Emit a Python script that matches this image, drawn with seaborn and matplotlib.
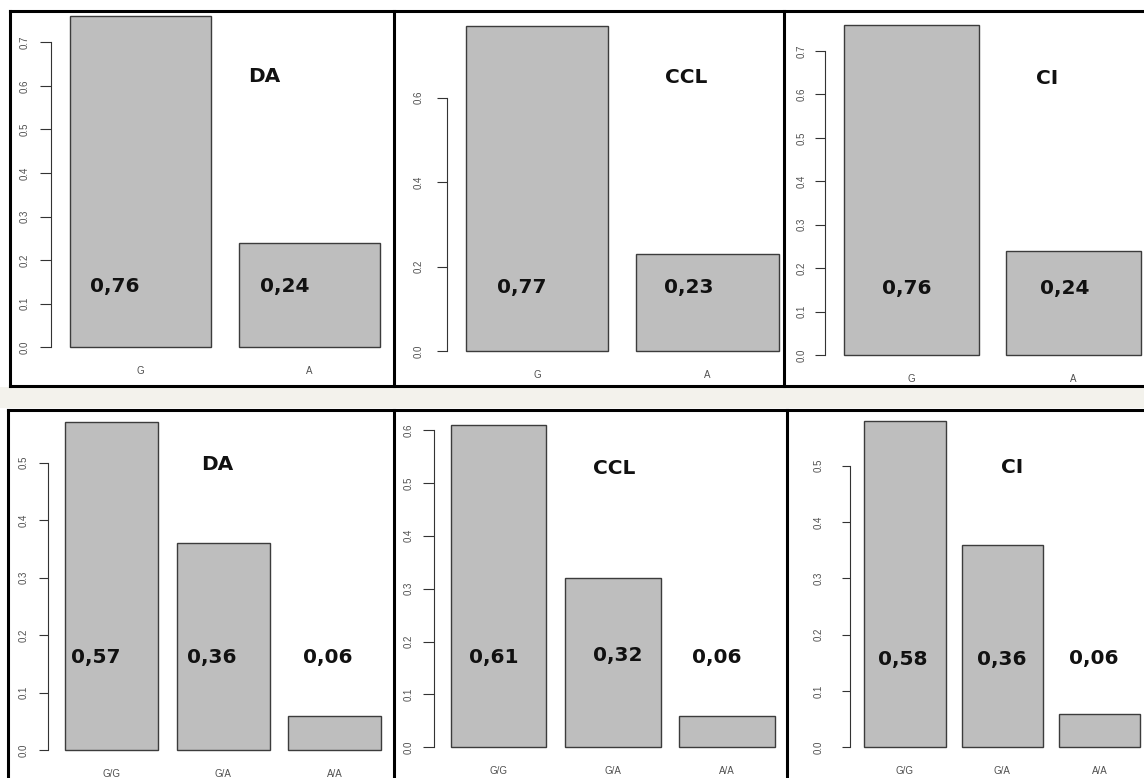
import matplotlib
matplotlib.use("Agg")
import matplotlib.pyplot as plt
import seaborn as sns
import pandas as pd
from matplotlib.lines import Line2D
from matplotlib.patches import Rectangle

# ---------------- data ----------------
alleles = ["G", "A"]
genotypes = ["G/G", "G/A", "A/A"]
traits = ["DA", "CCL", "CI"]

allele_freq_da = [0.76, 0.24]
allele_freq_ccl = [0.77, 0.23]
allele_freq_ci = [0.76, 0.24]

genotype_freq_da = [0.57, 0.36, 0.06]
genotype_freq_ccl = [0.61, 0.32, 0.06]
genotype_freq_ci = [0.58, 0.36, 0.06]

yticks_allele_da = [0.0, 0.1, 0.2, 0.3, 0.4, 0.5, 0.6, 0.7]
yticks_allele_ccl = [0.0, 0.2, 0.4, 0.6]
yticks_allele_ci = [0.0, 0.1, 0.2, 0.3, 0.4, 0.5, 0.6, 0.7]
yticks_geno_da = [0.0, 0.1, 0.2, 0.3, 0.4, 0.5]
yticks_geno_ccl = [0.0, 0.1, 0.2, 0.3, 0.4, 0.5, 0.6]
yticks_geno_ci = [0.0, 0.1, 0.2, 0.3, 0.4, 0.5]

# ---------------- style ----------------
sns.set_style("ticks")
plt.rcParams["font.family"] = ["Liberation Sans", "DejaVu Sans"]

W, H = 1144, 778
fig = plt.figure(figsize=(W / 100, H / 100), dpi=100)
fig.patch.set_facecolor("white")


def fx(x):
    return x / W


def fy(y):
    return 1 - y / H


BAR_FILL = "#bebebe"
BAR_EDGE = "#3c3c3c"
TICK_COLOR = "#505050"
AXIS_COLOR = "#333333"
LABEL_FONT = ["DejaVu Sans"]
LABEL_SIZE = 14.5
CAP_HALF = LABEL_SIZE * 100 / 72 * 0.729 / 2

# panel geometry in pixels: y-axis x, first bar centre, bar pitch,
# pixel of y=0, pixels per unit, top and right edges, tick length, label gap
panels = [
    dict(cats=alleles, vals=allele_freq_da, ticks=yticks_allele_da, title=traits[0],
         axis_x=51, c0=140.4, pitch=169.2, y0=347.3, ppu=435.7, top=14, right=392,
         tick_len=11, gap=16, title_xy=(248, 75),
         label_xy=[(90, 285), (260, 285)]),
    dict(cats=alleles, vals=allele_freq_ccl, ticks=yticks_allele_ccl, title=traits[1],
         axis_x=447.3, c0=536.9, pitch=170.6, y0=351.0, ppu=422.2, top=14, right=782,
         tick_len=10, gap=19, title_xy=(665, 76),
         label_xy=[(497, 286), (664, 286)]),
    dict(cats=alleles, vals=allele_freq_ci, ticks=yticks_allele_ci, title=traits[2],
         axis_x=825, c0=911.5, pitch=161.9, y0=355.0, ppu=434.3, top=14, right=1143,
         tick_len=10, gap=13.5, title_xy=(1036, 77),
         label_xy=[(882, 287), (1040, 287)]),
    dict(cats=genotypes, vals=genotype_freq_da, ticks=yticks_geno_da, title=traits[0],
         axis_x=48.3, c0=111.7, pitch=111.4, y0=750.0, ppu=574.7, top=412, right=391,
         tick_len=9, gap=16, title_xy=(201, 463),
         label_xy=[(71, 656), (187, 656), (303, 656)]),
    dict(cats=genotypes, vals=genotype_freq_ccl, ticks=yticks_geno_ccl, title=traits[1],
         axis_x=434, c0=498.7, pitch=114.2, y0=747.3, ppu=528.9, top=412, right=785,
         tick_len=11, gap=14.7, title_xy=(593, 467),
         label_xy=[(469, 656), (593, 654), (692, 656)]),
    dict(cats=genotypes, vals=genotype_freq_ci, ticks=yticks_geno_ci, title=traits[2],
         axis_x=850, c0=905.0, pitch=97.25, y0=747.3, ppu=563.3, top=412, right=1143,
         tick_len=8.5, gap=23, title_xy=(1001, 466),
         label_xy=[(878, 658), (977, 658), (1069, 657)]),
]

# light band between the two rows
fig.patches.append(Rectangle((0, fy(408)), 1, (408 - 387) / H, transform=fig.transFigure,
                             facecolor="#f3f2ec", edgecolor="none", zorder=0))

for p in panels:
    left, right, top = p["axis_x"], p["right"], p["top"]
    bottom = p["y0"] + 3
    ax = fig.add_axes([fx(left), fy(bottom), (right - left) / W, (bottom - top) / H])
    ax.patch.set_alpha(0)

    df = pd.DataFrame({"cat": p["cats"], "freq": p["vals"]})
    sns.barplot(data=df, x="cat", y="freq", ax=ax, color=BAR_FILL, saturation=1,
                width=0.835, edgecolor=BAR_EDGE, linewidth=1.0, errorbar=None)

    ax.set_xlim((left - p["c0"]) / p["pitch"], (right - p["c0"]) / p["pitch"])
    ax.set_ylim(-(bottom - p["y0"]) / p["ppu"], (p["y0"] - top) / p["ppu"])
    ax.set_xlabel("")
    ax.set_ylabel("")

    sns.despine(ax=ax, bottom=True)
    ax.spines["left"].set_bounds(0, p["ticks"][-1])
    ax.spines["left"].set_color(AXIS_COLOR)
    ax.spines["left"].set_linewidth(0.8)

    ax.set_yticks(p["ticks"])
    ax.set_yticklabels([f"{t:.1f}" for t in p["ticks"]], rotation=90, va="center")
    ax.tick_params(axis="y", length=p["tick_len"] * 0.72, width=0.8, color=AXIS_COLOR,
                   labelsize=7, labelcolor=TICK_COLOR,
                   pad=max(p["gap"] - 5.5, 1) * 0.72)
    ax.tick_params(axis="x", length=0, labelsize=7, labelcolor=TICK_COLOR, pad=11.5)

    for (lx, ly), v in zip(p["label_xy"], p["vals"]):
        fig.text(fx(lx), fy(ly + CAP_HALF), f"{v:.2f}".replace(".", ","),
                 ha="left", va="baseline", fontsize=LABEL_SIZE, fontweight="bold",
                 family=LABEL_FONT, color="#111111")
    tx, ty = p["title_xy"]
    fig.text(fx(tx), fy(ty + CAP_HALF), p["title"], ha="left", va="baseline",
             fontsize=LABEL_SIZE, fontweight="bold", family=LABEL_FONT, color="#111111")

# black frames around each panel
frame_lines = [
    ((10, 11), (1150, 11)), ((10, 386), (1150, 386)),
    ((10, 11), (10, 386)), ((394, 11), (394, 386)), ((784, 11), (784, 386)),
    ((8, 409.5), (1150, 409.5)),
    ((8, 409.5), (8, 790)), ((394, 409.5), (394, 790)), ((787, 409.5), (787, 790)),
]
for (x1, y1), (x2, y2) in frame_lines:
    fig.add_artist(Line2D([fx(x1), fx(x2)], [fy(y1), fy(y2)], transform=fig.transFigure,
                          color="black", linewidth=2.2, solid_capstyle="projecting"))

fig.savefig("out.png", dpi=100)
